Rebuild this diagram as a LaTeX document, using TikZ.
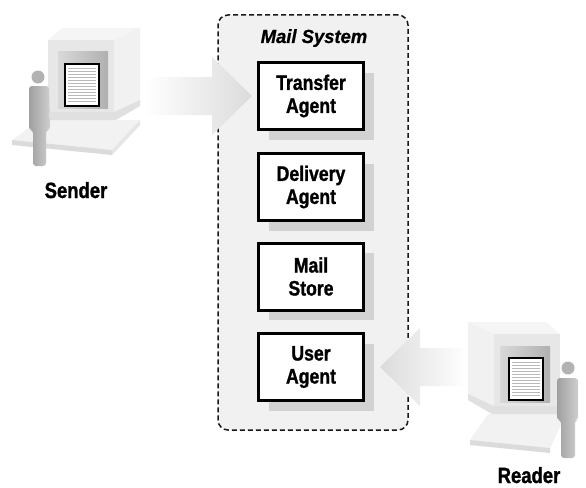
\documentclass[tikz,border=0pt]{standalone}
\usepackage{fontspec}
\setmainfont{Liberation Sans}
\newfontfamily\condfont[FakeStretch=0.84,FakeBold=1.2]{Liberation Sans}
\newfontfamily\titlefont[FakeStretch=0.97,FakeBold=0.8]{Liberation Sans}
\usetikzlibrary{calc,shadows}

\tikzset{
  agentbox/.style={draw=black, line width=3pt, fill=white,
    minimum width=105pt, minimum height=67pt, inner sep=0pt, align=center,
    font=\condfont\bfseries\fontsize{21}{23}\selectfont,
    drop shadow={shadow xshift=10pt, shadow yshift=-10pt, fill=gray!35, opacity=1}},
  sysbox/.style={draw=gray!20!black, fill=gray!11, line width=1.5pt,
    dash pattern=on 5pt off 3pt, rounded corners=10pt,
    minimum width=190pt, minimum height=415pt, inner sep=0pt},
  systitle/.style={font=\titlefont\bfseries\itshape\fontsize{19}{21}\selectfont, anchor=base},
  caption/.style={font=\condfont\bfseries\fontsize{22}{24}\selectfont, anchor=base},
  flowarrow/.style={draw=none},
  person/.style={left color=gray!75, right color=gray!38},
  monitor/.pic={
    % top face
    \fill[gray!8] (0,0) -- (14,-12) -- (92,-12) -- (66,0) -- cycle;
    % side face
    \fill[gray!11] (66,0) -- (92,-12) -- (92,60) -- (66,72) -- cycle;
    % front face
    \fill[gray!19] (0,0) rectangle (66,72);
    % screen recess
    \shade[left color=gray!30, right color=gray!62] (10,12) rectangle (60,68);
    % screen with text lines
    \fill[white] (17,24) rectangle (51,66);
    \foreach \yy in {28,31,...,63} \draw[gray!55, line width=0.8pt] (20,\yy) -- (48,\yy);
    \draw[line width=2pt] (17,24) rectangle (51,66);
    % foot
    \fill[gray!24] (2,72) -- (66,72) -- (92,60) -- (92,66) -- (68,80) -- (2,80) -- cycle;
  }
}

\begin{document}
\begin{tikzpicture}[x=1pt, y=-1pt]
  \fill[white] (0,0) rectangle (586,487);
  \useasboundingbox (0,0) rectangle (586,487);

  % mail system frame and its agents
  \node[sysbox] (sys) at (313,222.5) {};
  \node[systitle] (title) at (314,43) {Mail System};
  \node[agentbox] (ta) at (311,96)  {Transfer\\Agent};
  \node[agentbox] (da) at (311,187) {Delivery\\Agent};
  \node[agentbox] (ms) at (311,276.5) {Mail\\Store};
  \node[agentbox] (ua) at (311,367) {User\\Agent};

  % sender workstation
  \fill[gray!10] (12,140) -- (40,120) -- (140,120) -- (112,150) -- cycle;
  \fill[gray!28] (12,140) -- (112,150) -- (112,155) -- (12,145) -- cycle;
  \fill[gray!20] (112,150) -- (140,120) -- (140,125) -- (112,155) -- cycle;
  \pic at (48,40) {monitor};
  \fill[gray!60] (38,77) circle (6.5);
  \shade[person, rounded corners=3pt] (29,86) -- (49,86) -- (50,130) -- (46,130)
    -- (46,166) -- (33,166) -- (33,130) -- (29,130) -- cycle;
  \node[caption] (sender) at (76,198) {Sender};

  % reader workstation
  \fill[gray!10] (470,440) -- (488,414) -- (566,414) -- (550,448) -- cycle;
  \fill[gray!28] (470,440) -- (550,448) -- (550,453) -- (470,445) -- cycle;
  \pic[xscale=-1] at (560,334) {monitor};
  \fill[gray!60] (568,368) circle (6.5);
  \shade[person, rounded corners=3pt] (557,378) -- (578,378) -- (578,420) -- (575,420)
    -- (575,458) -- (561,458) -- (561,420) -- (557,420) -- cycle;
  \node[caption] (reader) at (529,483) {Reader};

  % message flow: sender into the transfer agent
  \shade[flowarrow, left color=white, right color=gray!28]
    ($(ta.west)+(-112,-19)$) -- ($(ta.west)+(-45,-19)$) -- ($(ta.west)+(-45,-39)$)
    -- ($(ta.west)+(-5,0)$) -- ($(ta.west)+(-45,39)$) -- ($(ta.west)+(-45,19)$)
    -- ($(ta.west)+(-112,19)$) -- cycle;

  % message flow: user agent out to the reader
  \shade[flowarrow, left color=gray!28, right color=white]
    ($(ua.east)+(102,-19)$) -- ($(ua.east)+(55,-19)$) -- ($(ua.east)+(55,-39)$)
    -- ($(ua.east)+(15,0)$) -- ($(ua.east)+(55,39)$) -- ($(ua.east)+(55,19)$)
    -- ($(ua.east)+(102,19)$) -- cycle;
\end{tikzpicture}
\end{document}
